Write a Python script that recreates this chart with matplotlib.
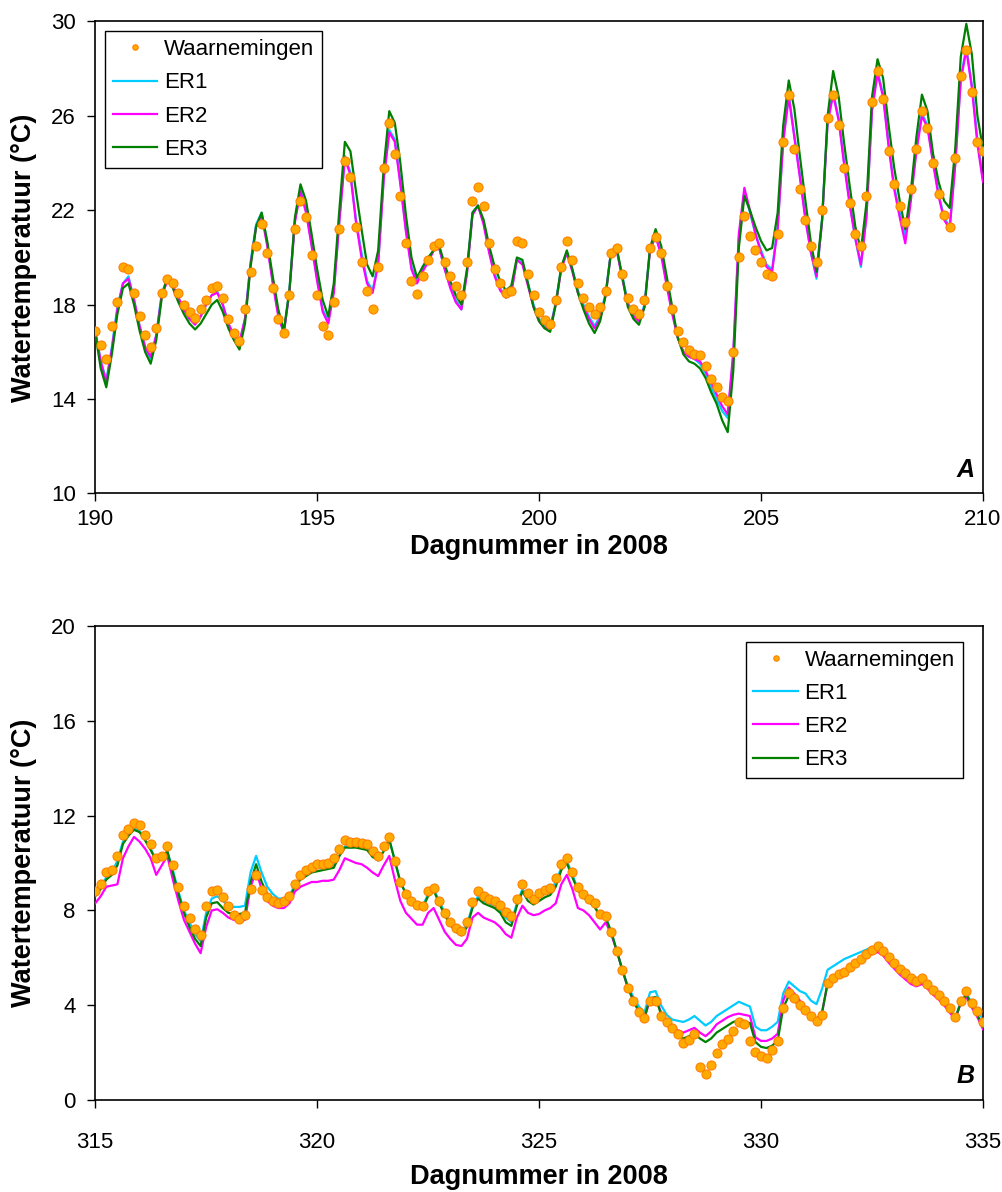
import numpy as np
import matplotlib
matplotlib.use("Agg")
import matplotlib.pyplot as plt

plt.rcParams['font.family'] = ['Liberation Sans', 'DejaVu Sans']

# 3-hourly readings, panel A (day 190-210)
days_a = np.linspace(190, 210, 161)
obs_a = [16.9, 16.3, 15.7, 17.1, 18.1, 19.6, 19.5, 18.5, 17.5, 16.7,
         16.2, 17.0, 18.5, 19.1, 18.9, 18.5, 18.0, 17.7, 17.45, 17.8,
         18.2, 18.7, 18.8, 18.3, 17.4, 16.8, 16.45, 17.8, 19.4, 20.5,
         21.4, 20.2, 18.7, 17.4, 16.8, 18.4, 21.2, 22.4, 21.7, 20.1,
         18.4, 17.1, 16.7, 18.1, 21.2, 24.1, 23.4, 21.3, 19.8, 18.6,
         17.8, 19.6, 23.8, 25.7, 24.4, 22.6, 20.6, 19.0, 18.45, 19.2,
         19.9, 20.5, 20.6, 19.8, 19.2, 18.8, 18.4, 19.8, 22.4, 23.0,
         22.2, 20.6, 19.5, 18.9, 18.5, 18.6, 20.7, 20.6, 19.3, 18.4,
         17.7, 17.35, 17.2, 18.2, 19.6, 20.7, 19.9, 18.9, 18.3, 17.9,
         17.6, 17.9, 18.6, 20.2, 20.4, 19.3, 18.3, 17.8, 17.6, 18.2,
         20.4, 20.85, 20.2, 18.8, 17.8, 16.9, 16.4, 16.1, 15.9, 15.85,
         15.4, 14.85, 14.5, 14.1, 13.9, 16.0, 20.0, 21.75, 20.9, 20.3,
         19.8, 19.3, 19.2, 21.0, 24.9, 26.9, 24.6, 22.9, 21.6, 20.5,
         19.8, 22.0, 25.9, 26.9, 25.6, 23.8, 22.3, 21.0, 20.5, 22.6,
         26.6, 27.9, 26.7, 24.5, 23.1, 22.2, 21.5, 22.9, 24.6, 26.2,
         25.5, 24.0, 22.7, 21.8, 21.3, 24.2, 27.7, 28.8, 27.0, 24.9,
         24.5]
er1_a = [16.9, 15.6, 14.8, 16.2, 17.9, 18.9, 19.2, 18.2, 17.1, 16.2,
         15.7, 16.7, 18.5, 19.1, 18.8, 18.3, 17.8, 17.4, 17.2, 17.5,
         18.0, 18.4, 18.55, 18.0, 17.2, 16.7, 16.4, 17.4, 19.8, 21.4,
         21.9, 20.6, 19.0, 17.6, 16.8, 18.6, 21.6, 22.9, 22.0, 20.6,
         19.1, 17.8, 17.3, 18.6, 21.6, 24.3, 23.6, 21.6, 20.2, 19.0,
         18.6, 19.8, 23.4, 25.4, 25.0, 23.2, 21.2, 19.6, 19.0, 19.5,
         19.9, 20.3, 20.4, 19.5, 18.8, 18.2, 17.8, 19.4, 21.9, 22.2,
         21.5, 20.3, 19.3, 18.7, 18.3, 18.6, 19.9, 19.8, 18.9, 18.0,
         17.4, 17.1, 17.0, 18.1, 19.6, 20.2, 19.5, 18.6, 18.0, 17.5,
         17.1, 17.5, 18.5, 20.3, 20.3, 19.2, 18.1, 17.6, 17.3, 18.0,
         20.4, 20.9, 20.2, 18.9, 17.7, 16.6, 16.0, 15.8, 15.7, 15.5,
         15.1, 14.5, 14.0, 13.5, 13.2, 15.8, 20.8, 22.8, 21.9, 21.0,
         20.3, 19.7, 19.5, 21.3, 25.0, 26.9, 25.2, 23.5, 21.7, 20.2,
         19.1, 21.6, 25.8, 27.0, 25.9, 24.0, 22.3, 20.8, 19.6, 21.8,
         26.3, 27.9, 26.9, 24.8, 23.0, 21.9, 20.9, 22.6, 24.6, 26.1,
         25.6, 24.1, 22.7, 21.7, 21.3, 24.0, 27.6, 28.9, 27.3, 25.0,
         23.3]
er2_a = [16.9, 15.6, 14.7, 16.1, 17.8, 18.9, 19.1, 18.2, 17.1, 16.2,
         15.8, 16.7, 18.4, 19.0, 18.8, 18.3, 17.8, 17.4, 17.15, 17.5,
         18.0, 18.4, 18.5, 18.0, 17.2, 16.7, 16.4, 17.4, 19.7, 21.3,
         21.8, 20.5, 18.9, 17.5, 16.8, 18.5, 21.5, 22.8, 21.9, 20.5,
         19.0, 17.7, 17.2, 18.5, 21.5, 24.2, 23.5, 21.5, 20.0, 18.9,
         18.5, 19.7, 23.3, 25.3, 24.9, 23.1, 21.1, 19.5, 18.9, 19.4,
         19.8, 20.3, 20.4, 19.5, 18.7, 18.1, 17.8, 19.3, 21.8, 22.2,
         21.4, 20.2, 19.2, 18.6, 18.3, 18.5, 19.9, 19.7, 18.8, 17.9,
         17.3, 17.0, 17.0, 18.0, 19.5, 20.2, 19.4, 18.5, 17.9, 17.4,
         17.0, 17.4, 18.4, 20.3, 20.3, 19.1, 18.0, 17.5, 17.3, 17.9,
         20.3, 20.9, 20.1, 18.8, 17.6, 16.6, 16.0, 15.8, 15.7, 15.6,
         15.2, 14.7, 14.2, 13.7, 13.35, 16.0, 21.0, 22.95, 22.0, 21.0,
         20.2, 19.6, 19.4, 21.2, 24.9, 26.8, 25.1, 23.4, 21.6, 20.2,
         19.2, 21.5, 25.7, 26.9, 25.8, 23.9, 22.2, 20.8, 19.7, 21.7,
         26.2, 27.8, 26.8, 24.7, 22.9, 21.7, 20.6, 22.4, 24.5, 26.0,
         25.5, 24.0, 22.6, 21.6, 21.2, 23.9, 27.5, 28.8, 27.2, 24.8,
         23.2]
er3_a = [16.8, 15.3, 14.5, 15.9, 17.6, 18.7, 18.9, 18.0, 16.9, 16.0,
         15.5, 16.5, 18.3, 19.2, 18.7, 18.1, 17.6, 17.2, 16.95, 17.2,
         17.6, 18.0, 18.2, 17.7, 17.0, 16.5, 16.1, 17.2, 19.6, 21.3,
         21.9, 20.7, 19.2, 17.8, 16.9, 18.6, 21.7, 23.1, 22.4, 21.0,
         19.5, 18.2, 17.5, 18.9, 22.0, 24.9, 24.5, 22.8, 21.2, 19.7,
         19.2, 20.3, 23.8, 26.2, 25.7, 24.0, 21.8, 20.0, 19.15, 19.6,
         20.0, 20.3, 20.5, 19.7, 19.0, 18.4, 18.0, 19.5, 21.9, 22.2,
         21.6, 20.5, 19.6, 19.0, 18.6, 18.8, 20.0, 19.9, 18.9, 17.9,
         17.3, 17.0, 16.85, 18.0, 19.6, 20.3, 19.5, 18.5, 17.8, 17.2,
         16.8, 17.3, 18.4, 20.3, 20.4, 19.2, 17.9, 17.4, 17.15, 17.9,
         20.4, 21.2, 20.5, 19.2, 17.9, 16.6, 15.9, 15.6, 15.5, 15.3,
         14.9, 14.3, 13.8, 13.1, 12.6, 15.2, 20.4, 22.6, 22.0, 21.3,
         20.7, 20.3, 20.4, 21.9, 25.6, 27.5, 26.3, 24.3, 22.4, 20.6,
         19.4, 21.6, 26.0, 27.9, 26.8, 24.8, 23.0, 21.3, 20.3, 22.3,
         26.8, 28.4, 27.6, 25.6, 23.8, 22.4, 21.2, 22.8, 25.1, 26.9,
         26.2, 24.4, 23.2, 22.4, 22.1, 24.6, 28.5, 29.9, 28.6, 26.0,
         24.6]

# 3-hourly readings, panel B (day 315-335)
days_b = np.linspace(315, 335, 161)
obs_b = [8.8, 9.1, 9.6, 9.7, 10.3, 11.2, 11.45, 11.7, 11.6, 11.2,
         10.8, 10.2, 10.3, 10.7, 9.9, 9.0, 8.2, 7.7, 7.2, 6.95,
         8.2, 8.8, 8.85, 8.55, 8.2, 7.8, 7.65, 7.8, 8.9, 9.5,
         8.85, 8.55, 8.4, 8.3, 8.4, 8.6, 9.1, 9.5, 9.7, 9.85,
         9.95, 9.97, 10.0, 10.2, 10.6, 10.95, 10.9, 10.88, 10.85, 10.8,
         10.5, 10.3, 10.7, 11.1, 10.1, 9.2, 8.7, 8.4, 8.25, 8.2,
         8.8, 8.95, 8.4, 7.9, 7.5, 7.25, 7.15, 7.5, 8.35, 8.8,
         8.6, 8.5, 8.4, 8.25, 7.95, 7.75, 8.5, 9.1, 8.75, 8.5,
         8.75, 8.85, 8.95, 9.35, 9.95, 10.2, 9.6, 9.0, 8.7, 8.5,
         8.3, 7.85, 7.75, 7.1, 6.3, 5.5, 4.75, 4.2, 3.7, 3.45,
         4.2, 4.2, 3.55, 3.3, 3.05, 2.8, 2.4, 2.55, 2.8, 1.4,
         1.1, 1.5, 2.0, 2.35, 2.6, 2.9, 3.3, 3.2, 2.5, 2.05,
         1.85, 1.8, 2.1, 2.5, 3.9, 4.5, 4.3, 4.0, 3.8, 3.55,
         3.35, 3.6, 4.95, 5.15, 5.3, 5.4, 5.6, 5.8, 5.95, 6.15,
         6.35, 6.5, 6.3, 6.05, 5.8, 5.55, 5.35, 5.15, 5.03, 5.15,
         4.9, 4.65, 4.45, 4.2, 3.9, 3.5, 4.2, 4.6, 4.1, 3.75,
         3.3]
er1_b = [8.7, 9.0, 9.4, 9.6, 10.1, 10.9, 11.25, 11.45, 11.35, 11.0,
         10.6, 10.1, 10.2, 10.5, 9.7, 8.8, 8.0, 7.5, 7.0, 6.7,
         7.9, 8.5, 8.6, 8.4, 8.2, 8.15, 8.15, 8.2, 9.6, 10.3,
         9.6, 9.0, 8.7, 8.5, 8.5, 8.6, 9.1, 9.4, 9.6, 9.75,
         9.8, 9.85, 9.85, 9.9, 10.3, 10.7, 10.65, 10.7, 10.65, 10.6,
         10.3, 10.1, 10.5, 11.0, 10.1, 9.2, 8.7, 8.4, 8.2, 8.15,
         8.7, 8.9, 8.4, 7.9, 7.5, 7.2, 7.1, 7.4, 8.2, 8.6,
         8.4, 8.3, 8.2, 8.0, 7.7, 7.5, 8.3, 8.9, 8.6, 8.4,
         8.6, 8.7, 8.8, 9.2, 9.8, 10.1, 9.5, 8.9, 8.6, 8.4,
         8.2, 7.8, 7.7, 7.1, 6.3, 5.5, 4.8, 4.35, 3.95, 3.7,
         4.55, 4.6, 4.0, 3.6, 3.4, 3.35, 3.3, 3.4, 3.55, 3.35,
         3.15, 3.3, 3.55, 3.7, 3.85, 4.0, 4.15, 4.05, 3.95, 3.1,
         2.95, 2.95, 3.1, 3.3, 4.5, 5.0, 4.8, 4.6, 4.5, 4.2,
         4.05, 4.7, 5.5, 5.65, 5.8, 5.95, 6.05, 6.15, 6.25, 6.35,
         6.45, 6.5, 6.3, 6.0, 5.75, 5.5, 5.3, 5.1, 5.0, 5.1,
         4.85, 4.6, 4.4, 4.15, 3.85, 3.45, 4.15, 4.5, 4.1, 3.8,
         3.4]
er2_b = [8.3, 8.6, 9.0, 9.05, 9.1, 10.2, 10.7, 11.1, 10.9, 10.6,
         10.2, 9.5, 9.9, 10.3, 9.3, 8.4, 7.6, 7.1, 6.6, 6.2,
         7.3, 8.0, 8.05, 7.9, 7.7, 7.6, 7.55, 7.6, 9.0, 9.65,
         8.9, 8.4, 8.2, 8.1, 8.1, 8.3, 8.8, 9.0, 9.1, 9.2,
         9.2, 9.25, 9.25, 9.3, 9.7, 10.2, 10.1, 10.0, 9.95, 9.8,
         9.6, 9.45, 9.9, 10.3, 9.3, 8.4, 7.9, 7.65, 7.4, 7.4,
         7.9, 8.1, 7.6, 7.1, 6.8, 6.55, 6.5, 6.8, 7.7, 7.9,
         7.7, 7.6, 7.5, 7.3, 7.0, 6.85, 7.7, 8.2, 7.9, 7.8,
         7.85, 8.0, 8.1, 8.3, 9.1, 9.5, 8.9, 8.1, 8.0, 7.8,
         7.5, 7.2, 7.5, 7.0, 6.3, 5.5, 4.75, 4.2, 3.7, 3.45,
         4.25, 4.3, 3.7, 3.35, 3.1, 2.95, 2.85, 2.95, 3.05, 2.85,
         2.7, 2.9, 3.2, 3.35, 3.5, 3.6, 3.65, 3.6, 3.55, 2.65,
         2.5, 2.5, 2.6, 2.8, 4.2, 4.75, 4.5, 4.2, 3.9, 3.6,
         3.4, 3.7, 4.9, 5.1, 5.25, 5.35, 5.5, 5.7, 5.85, 6.05,
         6.15, 6.25, 6.1, 5.8, 5.55, 5.3, 5.1, 4.9, 4.8, 4.9,
         4.7, 4.45, 4.25, 4.0, 3.7, 3.4, 4.1, 4.35, 3.9, 3.5,
         3.0]
er3_b = [8.6, 8.9, 9.3, 9.5, 9.9, 10.8, 11.15, 11.4, 11.3, 10.95,
         10.55, 10.1, 10.2, 10.5, 9.6, 8.7, 7.9, 7.3, 6.8, 6.5,
         7.7, 8.3, 8.35, 8.1, 7.9, 7.85, 7.85, 7.9, 9.2, 9.95,
         9.2, 8.7, 8.5, 8.35, 8.35, 8.5, 9.0, 9.3, 9.45, 9.6,
         9.65, 9.7, 9.75, 9.8, 10.3, 10.65, 10.65, 10.65, 10.6, 10.55,
         10.25, 10.15, 10.5, 11.0, 10.1, 9.2, 8.7, 8.4, 8.2, 8.1,
         8.6, 8.85, 8.3, 7.8, 7.4, 7.1, 6.95, 7.3, 8.1, 8.5,
         8.3, 8.2, 8.1, 7.9, 7.5, 7.35, 8.2, 8.8, 8.4, 8.25,
         8.4, 8.55, 8.65, 9.0, 9.7, 10.0, 9.4, 8.85, 8.55, 8.35,
         8.15, 7.75, 7.7, 7.1, 6.3, 5.5, 4.75, 4.2, 3.75, 3.5,
         4.3, 4.35, 3.6, 3.3, 3.0, 2.75, 2.6, 2.7, 2.8, 2.6,
         2.45, 2.6, 2.85, 3.0, 3.15, 3.3, 3.35, 3.3, 3.25, 2.45,
         2.25, 2.2, 2.3, 2.5, 3.9, 4.4, 4.2, 3.95, 3.8, 3.55,
         3.4, 3.7, 4.95, 5.15, 5.3, 5.4, 5.6, 5.8, 5.95, 6.15,
         6.35, 6.45, 6.25, 6.0, 5.75, 5.5, 5.3, 5.1, 5.0, 5.1,
         4.85, 4.6, 4.4, 4.15, 3.85, 3.45, 4.1, 4.45, 4.0, 3.6,
         3.1]

panels = [
    (days_a, obs_a, er1_a, er2_a, er3_a, (190, 210), (10, 30), 'A'),
    (days_b, obs_b, er1_b, er2_b, er3_b, (315, 335), (0, 20), 'B'),
]

fig = plt.figure(figsize=(10.02, 11.92), dpi=100)
boxes = [[0.095, 0.586, 0.886, 0.396], [0.095, 0.077, 0.886, 0.398]]
# per panel: tick pad, xlabel pad, legend corner and anchor
styles = [(5, 3, 'upper left', (0.011, 0.979)),
          (17, 8, 'upper right', (0.977, 0.966))]

for box, (t, obs, er1, er2, er3, xlim, ylim, tag), (tpad, lpad, loc, anchor) in zip(boxes, panels, styles):
    ax = fig.add_axes(box)
    ax.plot(t, er1, color='#00CCFF', lw=1.6, label='ER1', zorder=2)
    ax.plot(t, er2, color='#FF00FF', lw=1.6, label='ER2', zorder=3)
    ax.plot(t, er3, color='#008000', lw=1.6, label='ER3', zorder=4)
    ax.plot(t, obs, 'o', ms=6.5, mfc='#FFAA00', mec='#FF8000', mew=0.8,
            label='Waarnemingen', zorder=5)

    ax.set_xlim(*xlim)
    ax.set_ylim(*ylim)
    ax.set_xticks(np.arange(xlim[0], xlim[1] + 1, 5))
    ax.set_yticks(np.arange(ylim[0], ylim[1] + 1, 4))
    ax.tick_params(axis='both', labelsize=16, length=6, width=1, direction='out')
    ax.tick_params(axis='x', pad=tpad)
    ax.tick_params(axis='y', pad=8)
    for s in ax.spines.values():
        s.set_linewidth(1.2)
    ax.set_xlabel('Dagnummer in 2008', fontsize=19.5, fontweight='bold', labelpad=lpad)
    ax.set_ylabel('Watertemperatuur (°C)', fontsize=19.5, fontweight='bold', labelpad=10)
    ax.text(0.99, 0.025, tag, transform=ax.transAxes, ha='right', va='bottom',
            fontsize=18, fontweight='bold', fontstyle='italic')

    h, l = ax.get_legend_handles_labels()
    order = [3, 0, 1, 2]
    leg = ax.legend([h[i] for i in order], [l[i] for i in order], loc=loc,
                    bbox_to_anchor=anchor, borderaxespad=0,
                    fontsize=16, frameon=True, fancybox=False, framealpha=1,
                    edgecolor='black', handlelength=2.0, handletextpad=0.3,
                    borderpad=0.35, labelspacing=0.55, markerscale=0.6)
    leg.get_frame().set_linewidth(1.0)

fig.savefig('out.png', dpi=100)
